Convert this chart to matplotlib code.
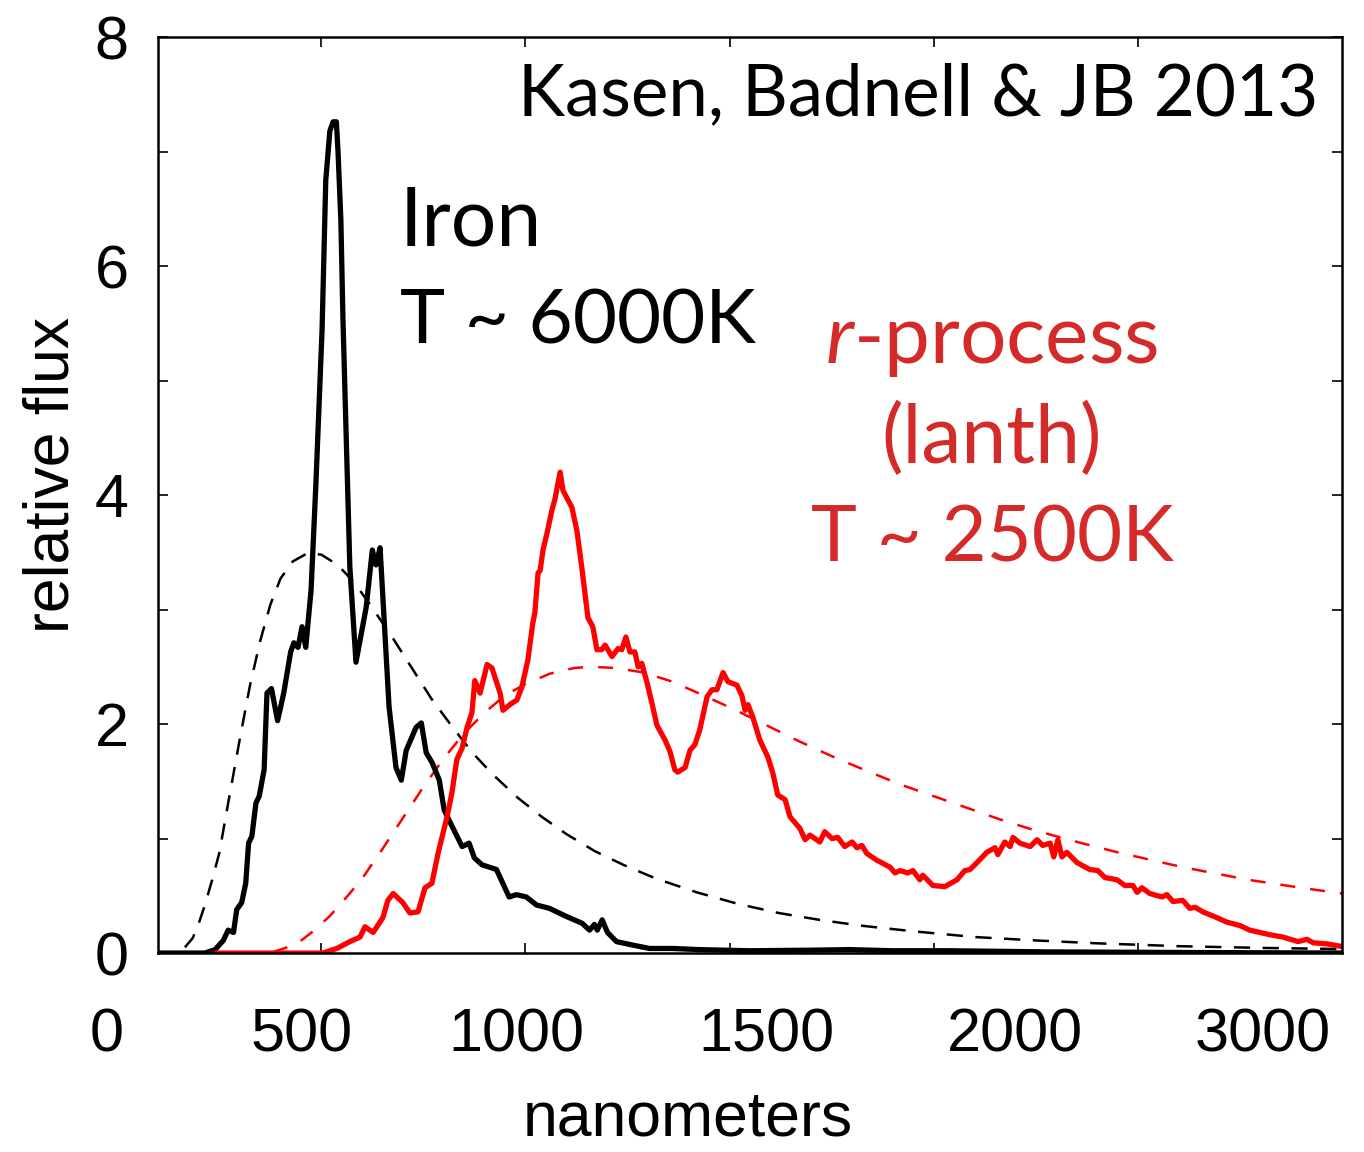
import matplotlib
matplotlib.use("Agg")
import matplotlib.pyplot as plt
from matplotlib import transforms

plt.rcParams['font.family'] = ['Liberation Sans', 'DejaVu Sans']
plt.rcParams['mathtext.fontset'] = 'custom'
plt.rcParams['mathtext.it'] = 'Lato:italic'
plt.rcParams['mathtext.rm'] = 'Lato'

# iron spectrum (solid black)
iron_nm = [100, 215, 240, 260, 272, 285, 293, 305, 315, 322, 330, 340, 348, 360, 367, 378,
           393, 408, 425, 433, 443, 453, 462, 475, 487, 502, 511, 521, 529, 537, 541, 548,
           553, 563, 570, 585, 610, 625, 634, 644, 654, 666, 683, 696, 708, 732, 745, 757,
           772, 789, 801, 813, 845, 862, 875, 894, 929, 960, 978, 1002, 1027, 1059, 1100,
           1139, 1157, 1169, 1176, 1188, 1201, 1223, 1262, 1304, 1360, 1426, 1549, 1700,
           1794, 1900, 2039, 2284, 2600, 3000]
iron_flux = [0, 0, 0.03, 0.11, 0.20, 0.18, 0.38, 0.44, 0.61, 0.96, 1.02, 1.31, 1.37, 1.60,
             2.27, 2.31, 2.03, 2.27, 2.63, 2.71, 2.67, 2.85, 2.67, 3.17, 4.11, 5.45, 6.75,
             7.18, 7.26, 7.26, 7.00, 6.40, 5.55, 4.26, 3.37, 2.54, 3.02, 3.52, 3.39, 3.54,
             2.91, 2.15, 1.62, 1.51, 1.77, 1.97, 2.01, 1.75, 1.66, 1.51, 1.25, 1.16, 0.93,
             0.96, 0.83, 0.77, 0.73, 0.49, 0.51, 0.49, 0.42, 0.39, 0.32, 0.26, 0.20, 0.25,
             0.20, 0.29, 0.18, 0.10, 0.07, 0.04, 0.04, 0.03, 0.02, 0.025, 0.03, 0.02, 0.02,
             0.01, 0.005, 0.0]

# lanthanide r-process spectrum (solid red)
lanth_nm = [245, 504, 538, 570, 595, 607, 627, 651, 663, 676, 700, 717, 737, 754, 771, 786,
            808, 820, 832, 845, 857, 869, 876, 889, 906, 918, 938, 945, 962, 979, 991, 1006,
            1018, 1023, 1031, 1036, 1043, 1053, 1065, 1072, 1085, 1092, 1114, 1126, 1138,
            1153, 1165, 1175, 1187, 1195, 1212, 1227, 1236, 1246, 1256, 1268, 1276, 1285,
            1298, 1310, 1322, 1342, 1354, 1366, 1373, 1391, 1403, 1415, 1427, 1445, 1457,
            1469, 1484, 1496, 1518, 1530, 1538, 1545, 1557, 1574, 1594, 1606, 1618, 1636,
            1648, 1672, 1685, 1697, 1721, 1733, 1751, 1765, 1782, 1800, 1812, 1824, 1836,
            1861, 1893, 1905, 1917, 1937, 1949, 1966, 1973, 1998, 2027, 2057, 2076, 2089,
            2106, 2130, 2150, 2157, 2174, 2187, 2194, 2211, 2236, 2253, 2267, 2285, 2294,
            2304, 2314, 2326, 2351, 2382, 2402, 2419, 2449, 2468, 2488, 2498, 2510, 2529,
            2559, 2571, 2586, 2610, 2627, 2640, 2659, 2693, 2718, 2750, 2774, 2799, 2823,
            2855, 2892, 2914, 2929, 2963, 2995, 3000]
lanth_flux = [0, 0, 0.04, 0.10, 0.14, 0.23, 0.18, 0.31, 0.46, 0.52, 0.44, 0.35, 0.36, 0.57,
              0.61, 0.87, 1.19, 1.40, 1.69, 1.79, 1.97, 2.10, 2.38, 2.27, 2.52, 2.49, 2.27,
              2.12, 2.17, 2.21, 2.32, 2.56, 2.88, 2.97, 3.32, 3.34, 3.52, 3.67, 3.87, 3.96,
              4.20, 4.04, 3.89, 3.69, 3.37, 2.93, 2.85, 2.65, 2.65, 2.69, 2.59, 2.66, 2.65,
              2.76, 2.63, 2.63, 2.50, 2.53, 2.36, 2.18, 1.99, 1.86, 1.76, 1.60, 1.58, 1.62,
              1.77, 1.82, 1.95, 2.24, 2.30, 2.30, 2.45, 2.37, 2.34, 2.25, 2.12, 2.17, 2.06,
              1.86, 1.71, 1.57, 1.38, 1.34, 1.19, 1.09, 0.99, 1.03, 0.97, 1.06, 1.00, 1.01,
              0.93, 0.97, 0.92, 0.94, 0.87, 0.81, 0.75, 0.70, 0.72, 0.70, 0.72, 0.64, 0.68,
              0.59, 0.58, 0.64, 0.72, 0.73, 0.79, 0.88, 0.92, 0.86, 0.97, 0.93, 1.01, 0.96,
              0.93, 0.99, 0.94, 0.96, 0.84, 0.99, 0.84, 0.88, 0.79, 0.73, 0.72, 0.66, 0.64,
              0.59, 0.59, 0.53, 0.57, 0.52, 0.49, 0.51, 0.45, 0.46, 0.39, 0.40, 0.36, 0.31,
              0.27, 0.24, 0.20, 0.18, 0.16, 0.14, 0.10, 0.12, 0.09, 0.08, 0.06, 0.06]

# blackbody T ~ 6000K (dashed black)
bb_iron_nm = [166, 185, 200, 215, 232, 250, 275, 300, 325, 350, 375, 400, 430, 465, 500, 540,
              580, 620, 670, 720, 770, 820, 870, 920, 980, 1040, 1100, 1170, 1240, 1320,
              1420, 1520, 1620, 1720, 1820, 1950, 2100, 2250, 2400, 2600, 2800, 3000]
bb_iron_flux = [0.05, 0.13, 0.26, 0.42, 0.63, 0.87, 1.37, 1.86, 2.33, 2.72, 3.04, 3.27, 3.42,
                3.49, 3.48, 3.39, 3.24, 3.04, 2.78, 2.50, 2.22, 1.98, 1.75, 1.56, 1.36, 1.19,
                1.04, 0.89, 0.77, 0.65, 0.53, 0.43, 0.35, 0.29, 0.24, 0.19, 0.14, 0.11, 0.085,
                0.06, 0.045, 0.035]

# blackbody T ~ 2500K (dashed red)
bb_lanth_nm = [382, 400, 440, 480, 520, 560, 600, 650, 700, 750, 800, 850, 900, 950, 1000,
               1060, 1120, 1160, 1220, 1290, 1360, 1430, 1510, 1590, 1670, 1750, 1830, 1920,
               2000, 2080, 2160, 2240, 2330, 2450, 2610, 2770, 2900, 3000]
bb_lanth_flux = [0.01, 0.03, 0.08, 0.19, 0.32, 0.48, 0.65, 0.91, 1.18, 1.45, 1.70, 1.92, 2.10,
                 2.25, 2.35, 2.44, 2.49, 2.50, 2.49, 2.45, 2.37, 2.26, 2.13, 1.99, 1.85, 1.72,
                 1.60, 1.47, 1.37, 1.27, 1.17, 1.08, 0.99, 0.88, 0.75, 0.64, 0.57, 0.52]

xtick_marks = [500, 1000, 1500, 2000, 2500]
x_labels = ['0', '500', '1000', '1500', '2000', '3000']
x_label_at = [-25, 453, 979, 1591, 2199, 2806]
ytick_vals = [0, 1, 2, 3, 4, 5, 6, 7, 8]
ytick_labels = ['0', '', '2', '', '4', '', '6', '', '8']

RED_TEXT = '#d42a2a'
ANNOT_FONT = ['Lato', 'DejaVu Sans']

fig = plt.figure(figsize=(13.64, 11.52), dpi=100)
ax = fig.add_axes([0.1158, 0.1727, 0.8681, 0.7951])

ax.plot(bb_iron_nm, bb_iron_flux, color='black', lw=1.8, dashes=(6.5, 5))
ax.plot(bb_lanth_nm, bb_lanth_flux, color='red', lw=1.8, dashes=(6, 6))
ax.plot(iron_nm, iron_flux, color='black', lw=3.8, solid_joinstyle='round')
ax.plot(lanth_nm, lanth_flux, color='red', lw=3.8, solid_joinstyle='round')

ax.set_xlim(100, 3000)
ax.set_ylim(0, 8)
ax.set_xticks(xtick_marks)
ax.set_xticklabels([])
ax.set_yticks(ytick_vals)
ax.set_yticklabels(ytick_labels)
ax.tick_params(direction='in', top=True, right=True, length=7, width=1.2,
               labelsize=44, pad=21)
for sp in ax.spines.values():
    sp.set_linewidth(1.8)

# x labels sit below the axis at their own spots
trans = transforms.blended_transform_factory(ax.transData, ax.transAxes)
for lbl, pos in zip(x_labels, x_label_at):
    ax.text(pos, -0.108, lbl, transform=trans, ha='center', va='baseline',
            fontsize=44, clip_on=False)

ax.text(0.4476, -0.181, 'nanometers', transform=ax.transAxes, ha='center',
        va='center', fontsize=45)
ax.text(-0.0895, 0.522, 'relative flux', transform=ax.transAxes, ha='center',
        va='center', rotation=90, fontsize=45)

ax.text(0.9797, 0.9148, 'Kasen, Badnell & JB 2013', transform=ax.transAxes,
        ha='right', va='baseline', fontsize=51, family=ANNOT_FONT)
ax.text(0.2044, 0.773, 'Iron', transform=ax.transAxes, ha='left', va='baseline',
        fontsize=58, family=ANNOT_FONT)
ax.text(0.2044, 0.666, 'T ~ 6000K', transform=ax.transAxes, ha='left', va='baseline',
        fontsize=55, family=ANNOT_FONT)
ax.text(0.7044, 0.644, r'$\mathit{r}$-process', transform=ax.transAxes, ha='center',
        va='baseline', fontsize=59, color=RED_TEXT, family=ANNOT_FONT)
ax.text(0.7044, 0.535, '(lanth)', transform=ax.transAxes, ha='center', va='baseline',
        fontsize=58, color=RED_TEXT, family=ANNOT_FONT)
ax.text(0.7044, 0.427, 'T ~ 2500K', transform=ax.transAxes, ha='center', va='baseline',
        fontsize=56, color=RED_TEXT, family=ANNOT_FONT)

fig.savefig('out.png', dpi=100)
